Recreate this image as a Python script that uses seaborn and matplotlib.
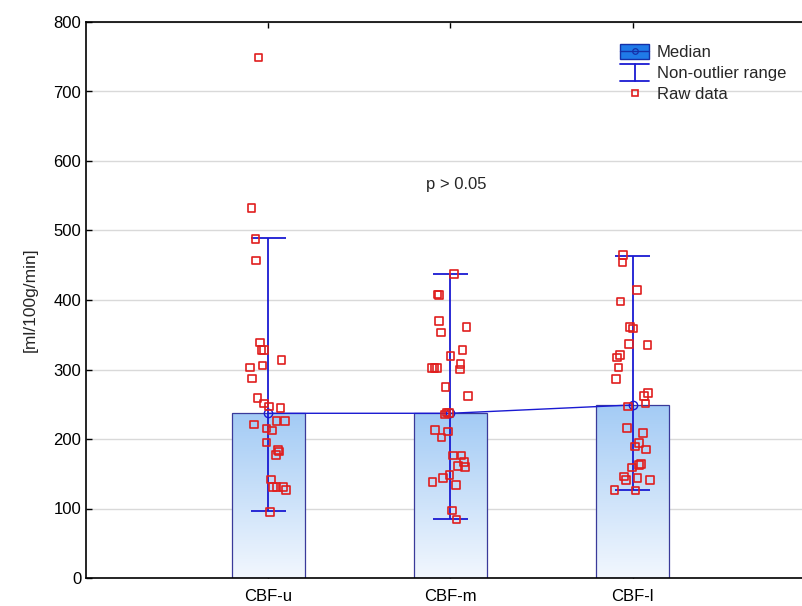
import numpy as np
import pandas as pd
import matplotlib as mpl
mpl.use('Agg')
import matplotlib.pyplot as plt
import seaborn as sns
from matplotlib.patches import Rectangle
from matplotlib.lines import Line2D
from matplotlib.legend_handler import HandlerBase
from matplotlib.colors import LinearSegmentedColormap

# values
groups = ["CBF-u", "CBF-m", "CBF-l"]
medians = [237, 237, 249]
range_low = [97, 85, 127]
range_high = [489, 438, 464]

cbf_u = [749, 532, 488, 457, 339, 328, 328, 314, 303, 306, 287, 259, 251, 247, 245,
         221, 226, 226, 215, 212, 195, 184, 182, 177, 142, 131, 131, 131, 127, 95]
cbf_m = [437, 408, 407, 370, 361, 353, 328, 319, 302, 302, 302, 308, 300, 275, 262,
         238, 235, 237, 213, 211, 202, 176, 176, 167, 161, 160, 148, 144, 138, 134, 97, 84]
cbf_l = [465, 454, 414, 398, 361, 359, 337, 335, 321, 317, 303, 286, 266, 262, 251,
         247, 216, 209, 194, 189, 185, 164, 163, 159, 146, 141, 144, 141, 127, 126]

# horizontal scatter of the raw points around each category (category units)
u_jitter = [-0.053, -0.091, -0.069, -0.068, -0.046, -0.036, -0.022, 0.074, -0.10, -0.031,
            -0.088, -0.058, -0.022, 0.004, 0.068, -0.079, 0.046, 0.092, -0.009, 0.022,
            -0.009, 0.055, 0.059, 0.042, 0.015, 0.027, 0.046, 0.082, 0.096, 0.009]
m_jitter = [0.020, -0.071, -0.064, -0.063, 0.088, -0.052, 0.066, 0.0, -0.101, -0.088,
            -0.075, 0.055, 0.051, -0.026, 0.097, -0.022, -0.031, -0.008, -0.086, -0.013,
            -0.049, 0.014, 0.060, 0.075, 0.042, 0.080, -0.004, -0.041, -0.099, 0.029,
            0.009, 0.033]
l_jitter = [-0.052, -0.055, 0.025, -0.066, -0.015, 0.003, -0.019, 0.082, -0.070, -0.086,
            -0.077, -0.092, 0.086, 0.062, 0.071, -0.024, -0.030, 0.058, 0.036, 0.013,
            0.075, 0.046, 0.036, -0.005, -0.046, -0.035, 0.027, 0.095, -0.099, 0.016]

raw = pd.concat([
    pd.DataFrame({"group": g, "pos": i + np.array(j), "value": v})
    for i, (g, v, j) in enumerate(zip(groups, [cbf_u, cbf_m, cbf_l],
                                      [u_jitter, m_jitter, l_jitter]))
])

sns.set_theme(style="white")
plt.rcParams['font.family'] = ['Liberation Sans', 'DejaVu Sans']

BLUE = '#1a1ad2'
NAVY = '#3a3a9a'
RED = '#e01e1e'

fig = plt.figure(figsize=(8.03, 6.06), dpi=100)
ax = fig.add_axes([86 / 803, 28 / 606, 717 / 803, 556 / 606])

sns.barplot(x=np.arange(3), y=medians, native_scale=True, width=0.4,
            color='white', edgecolor=NAVY, linewidth=0.9, ax=ax, zorder=2)

# gradient fill inside each bar
cmap = LinearSegmentedColormap.from_list('bar', ['#f2f7fe', '#a3cbf5'])
grad = np.linspace(0, 1, 256).reshape(-1, 1)
for p in ax.patches:
    x0, y0 = p.get_x(), p.get_y()
    w, h = p.get_width(), p.get_height()
    im = ax.imshow(grad, cmap=cmap, origin='lower', aspect='auto',
                   extent=(x0, x0 + w, y0, y0 + h), zorder=2.1)
    im.set_clip_path(p)
    p.set_facecolor('none')
    p.set_zorder(2.2)

# non-outlier range whiskers
for i in range(3):
    ax.vlines(i, range_low[i], range_high[i], color=BLUE, lw=1.3, zorder=3)
    ax.hlines([range_low[i], range_high[i]], i - 0.096, i + 0.096, color=BLUE, lw=1.3, zorder=3)

# median line joining the groups
ax.plot(range(3), medians, color=BLUE, lw=1.0, marker='o', ms=6, mfc='none',
        mec=BLUE, mew=1.0, zorder=4)

sns.scatterplot(data=raw, x="pos", y="value", marker='s', s=30, facecolor='none',
                edgecolor=RED, linewidth=1.2, ax=ax, zorder=5, legend=False)

ax.set_xlim(-1, 2.935)
ax.set_ylim(0, 800)
ax.set_yticks(range(0, 801, 100))
ax.set_xticks(range(3))
ax.set_xticklabels(groups)
ax.set_xlabel("")
ax.set_ylabel("[ml/100g/min]", fontsize=12.5, labelpad=11)
ax.tick_params(axis='both', labelsize=12, direction='in', length=4, width=1,
               colors='black', top=True, bottom=True, left=True)
ax.tick_params(axis='x', pad=8)
ax.grid(axis='y', color='#d9d9d9', lw=1.0)
ax.set_axisbelow(True)
for side in ['left', 'top', 'bottom']:
    ax.spines[side].set_color('black')
    ax.spines[side].set_linewidth(1.2)
ax.spines['right'].set_visible(False)

ax.text(1.03, 566, "p > 0.05", ha='center', va='center', fontsize=12)


class MedianHandler(HandlerBase):
    def create_artists(self, legend, orig, xd, yd, width, height, fontsize, trans):
        r = Rectangle((-xd, -yd), width, height, facecolor='#1f7ae8', edgecolor='#1530a8',
                      lw=1.0, transform=trans)
        ln = Line2D([-xd, -xd + width], [-yd + height / 2] * 2, color='#1530a8', lw=1.0,
                    transform=trans)
        mk = Line2D([-xd + width / 2], [-yd + height / 2], marker='o', ms=4, mfc='none',
                    mec='#1530a8', mew=0.9, transform=trans)
        return [r, ln, mk]


class RangeHandler(HandlerBase):
    def create_artists(self, legend, orig, xd, yd, width, height, fontsize, trans):
        x0, x1 = -xd, -xd + width
        y0, y1 = -yd - 1, -yd + height + 1
        xm = (x0 + x1) / 2
        return [Line2D([x0, x1], [y1, y1], color=BLUE, lw=1.3, transform=trans),
                Line2D([x0, x1], [y0, y0], color=BLUE, lw=1.3, transform=trans),
                Line2D([xm, xm], [y0, y1], color=BLUE, lw=1.3, transform=trans)]


h_med = Rectangle((0, 0), 1, 1)
h_rng = Line2D([], [])
h_raw = Line2D([], [], marker='s', ls='none', ms=5, mfc='none', mec=RED, mew=1.2)
fig.legend([h_med, h_rng, h_raw], ["Median", "Non-outlier range", "Raw data"],
           handler_map={h_med: MedianHandler(), h_rng: RangeHandler()},
           loc='upper left', bbox_to_anchor=(620 / 803, 1 - 44 / 606), frameon=False,
           fontsize=12, handlelength=1.75, handleheight=1.0, handletextpad=0.45,
           labelspacing=0.3, borderpad=0, borderaxespad=0)

fig.savefig("out.png", dpi=100)
